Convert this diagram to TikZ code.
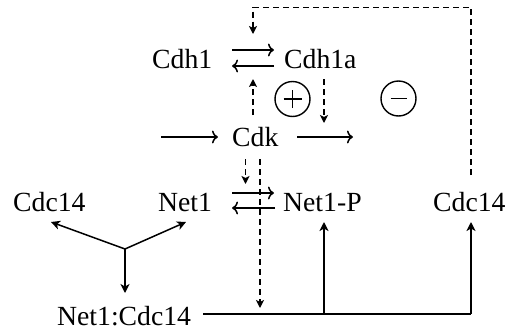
\documentclass[tikz,border=0pt]{standalone}
\usepackage{fontspec}
\setmainfont{Liberation Serif}
\usetikzlibrary{arrows.meta}
\begin{document}
\begin{tikzpicture}[x=1pt,y=-1pt,
  lbl/.style={anchor=base west,inner sep=0pt,font=\fontsize{27.7pt}{30pt}\selectfont},
  rx/.style={line width=1.5pt,-{To[length=6pt,width=13pt]}},
  sol/.style={line width=1.5pt,-{Stealth[length=9pt,width=9pt,inset=2.5pt]}},
  dsh/.style={line width=1.4pt,dash pattern=on 6pt off 4pt,-{Stealth[length=8pt,width=8pt,inset=2pt]}},
  sign/.style={circle,draw,line width=1.4pt,minimum size=35pt,inner sep=0pt}]
\useasboundingbox (0,0) rectangle (507,330);
% nodes
\node[lbl] (cdh1) at (152,68.3) {Cdh1};
\node[lbl] (cdh1a) at (284,68.3) {Cdh1a};
\node[lbl] (cdk) at (232,146.7) {Cdk};
\node[lbl] (cdc14l) at (13,211.7) {Cdc14};
\node[lbl] (net1) at (158,211.7) {Net1};
\node[lbl] (net1p) at (283,211.7) {Net1-P};
\node[lbl] (cdc14r) at (433,211.7) {Cdc14};
\node[lbl] (nc) at (57,325) {Net1:Cdc14};
\node[sign] (plus) at (292.5,99) {};
\node[sign] (minus) at (398.5,98.5) {};
\draw[line width=1.3pt] ([xshift=-9pt]plus.center) -- ([xshift=9pt]plus.center)
  ([yshift=-9pt]plus.center) -- ([yshift=9pt]plus.center);
\draw[line width=1.3pt] ([xshift=-8pt]minus.center) -- ([xshift=8pt]minus.center);
% coordinates
\coordinate (a1s) at (232,50); \coordinate (a1e) at (274,50);
\coordinate (b1s) at (274,66); \coordinate (b1e) at (232,66);
\coordinate (a2s) at (232,193); \coordinate (a2e) at (274,193);
\coordinate (b2s) at (275,208); \coordinate (b2e) at (232,208);
\coordinate (cin) at (161,137); \coordinate (cine) at (218,137);
\coordinate (cout) at (297,137); \coordinate (coute) at (353,137);
\coordinate (tri) at (125,249);
\coordinate (j1) at (324,314); \coordinate (j2) at (471,314);
\coordinate (top1) at (471,7.3); \coordinate (top2) at (253,7.3);
% reversible reactions
\draw[rx] (a1s) -- (a1e);
\draw[rx] (b1s) -- (b1e);
\draw[rx] (a2s) -- (a2e);
\draw[rx] (b2s) -- (b2e);
\draw[rx] (cin) -- (cine);
\draw[rx] (cout) -- (coute);
% dissociation
\draw[sol] (tri) -- (51,222);
\draw[sol] (tri) -- (186,222);
\draw[sol] (tri) -- (125,293);
% Net1:Cdc14 line
\draw[line width=1.5pt] (203,314) -- (j2);
\draw[sol] (j1) -- (324,222);
\draw[sol] (j2) -- (471,222);
% dashed influences
\draw[dsh] (253,115) -- (253,79);
\draw[dsh] (324,79) -- (324,123);
\draw[dsh] (245.5,159) -- (245.5,184);
\draw[dsh] (260,159) -- (260,308);
\draw[dsh] (471,175) -- (top1) -- (top2) -- (253,34);
\end{tikzpicture}
\end{document}
